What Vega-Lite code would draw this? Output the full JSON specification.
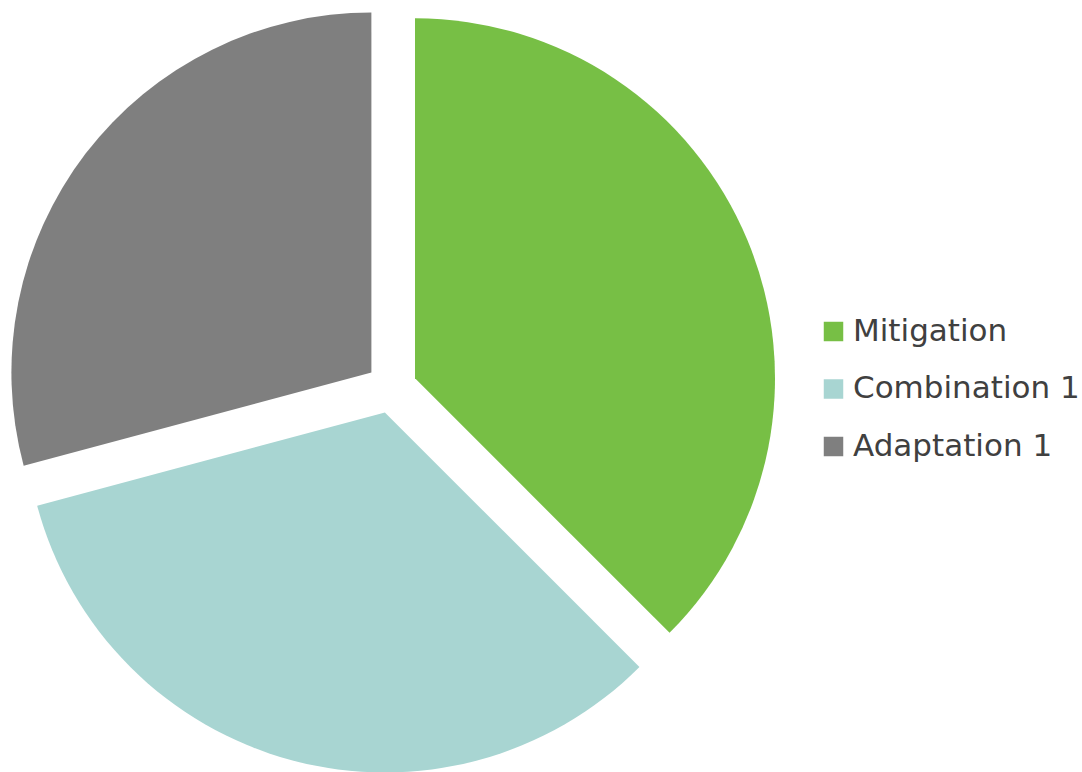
{
  "$schema": "https://vega.github.io/schema/vega-lite/v6.json",
  "width": 783,
  "height": 776,
  "padding": 0,
  "autosize": {"type": "pad"},
  "background": "white",
  "config": {"view": {"stroke": null}},
  "data": {
    "values": [
      {"category": "Mitigation", "count": 9},
      {"category": "Combination 1", "count": 8},
      {"category": "Adaptation 1", "count": 7}
    ]
  },
  "transform": [
    {"stack": "count", "groupby": [], "sort": [{"field": "category", "order": "descending"}], "as": ["start", "end"]}
  ],
  "encoding": {
    "theta": {"field": "start", "type": "quantitative", "scale": {"domain": [0, 24], "range": [0, 6.283185307]}},
    "theta2": {"field": "end"},
    "color": {
      "field": "category",
      "type": "nominal",
      "sort": ["Mitigation", "Combination 1", "Adaptation 1"],
      "scale": {"domain": ["Mitigation", "Combination 1", "Adaptation 1"], "range": ["#77BF45", "#A8D5D2", "#7F7F7F"]},
      "legend": {
        "orient": "none",
        "legendX": 818,
        "legendY": 316,
        "title": null,
        "symbolType": "square",
        "symbolSize": 380,
        "symbolStrokeWidth": 0,
        "labelFontSize": 31,
        "labelFont": "DejaVu Sans",
        "labelColor": "#404040",
        "labelOffset": 4,
        "rowPadding": 25.5,
        "labelLimit": 400
      }
    }
  },
  "layer": [
    {
      "transform": [{"filter": "datum.category === 'Mitigation'"}],
      "mark": {"type": "arc", "outerRadius": 360, "xOffset": 23.5, "yOffset": -9.7}
    },
    {
      "transform": [{"filter": "datum.category === 'Combination 1'"}],
      "mark": {"type": "arc", "outerRadius": 360, "xOffset": -6.6, "yOffset": 24.5}
    },
    {
      "transform": [{"filter": "datum.category === 'Adaptation 1'"}],
      "mark": {"type": "arc", "outerRadius": 360, "xOffset": -20.1, "yOffset": -15.5}
    }
  ]
}
